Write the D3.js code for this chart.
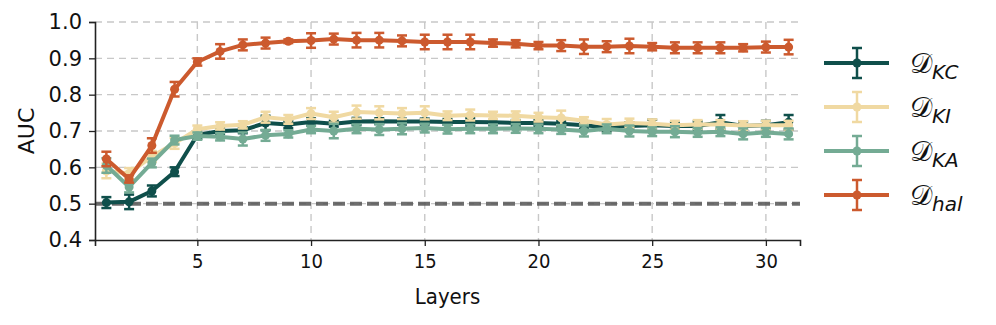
<!DOCTYPE html>
<html>
<head>
<meta charset="utf-8">
<script src="https://cdn.jsdelivr.net/npm/d3@7"></script>
<style>
  html, body { margin: 0; padding: 0; background: #fff; }
  svg { display: block; }
</style>
</head>
<body>
<svg id="chart" width="996" height="325"></svg>
<script>
// AUC per layer for four probing datasets
const layers = d3.range(1, 32);
const xTicks = [5, 10, 15, 20, 25, 30];
const yTicks = [0.4, 0.5, 0.6, 0.7, 0.8, 0.9, 1.0];
const baseline = 0.5;

const kcMean = [0.503, 0.505, 0.535, 0.588, 0.689, 0.700, 0.702, 0.722, 0.718, 0.725, 0.720, 0.726, 0.727, 0.726, 0.726, 0.725,
  0.725, 0.724, 0.722, 0.722, 0.720, 0.716, 0.710, 0.714, 0.716, 0.714, 0.714, 0.724, 0.714, 0.716, 0.724];
const kcErr = [0.015, 0.02, 0.015, 0.012, 0.01, 0.008, 0.008, 0.02, 0.01, 0.01, 0.008, 0.01, 0.008, 0.008, 0.008, 0.008,
  0.01, 0.008, 0.008, 0.008, 0.008, 0.01, 0.01, 0.01, 0.015, 0.01, 0.012, 0.02, 0.012, 0.012, 0.02];

const kiMean = [0.590, 0.583, 0.630, 0.666, 0.705, 0.714, 0.717, 0.738, 0.732, 0.748, 0.738, 0.752, 0.750, 0.748, 0.750, 0.742,
  0.744, 0.743, 0.742, 0.738, 0.736, 0.728, 0.718, 0.722, 0.720, 0.716, 0.718, 0.718, 0.715, 0.716, 0.716];
const kiErr = [0.02, 0.015, 0.015, 0.015, 0.01, 0.01, 0.01, 0.015, 0.012, 0.015, 0.015, 0.018, 0.018, 0.015, 0.018, 0.012,
  0.015, 0.01, 0.012, 0.012, 0.02, 0.01, 0.015, 0.012, 0.012, 0.012, 0.012, 0.012, 0.012, 0.012, 0.012];

const kaMean = [0.605, 0.546, 0.612, 0.675, 0.686, 0.684, 0.678, 0.688, 0.692, 0.704, 0.700, 0.706, 0.704, 0.706, 0.708, 0.705,
  0.706, 0.706, 0.707, 0.706, 0.704, 0.700, 0.706, 0.700, 0.698, 0.698, 0.696, 0.698, 0.692, 0.696, 0.692];
const kaErr = [0.02, 0.015, 0.012, 0.012, 0.01, 0.01, 0.018, 0.015, 0.01, 0.01, 0.02, 0.012, 0.015, 0.015, 0.012, 0.012,
  0.012, 0.012, 0.012, 0.012, 0.012, 0.015, 0.012, 0.015, 0.012, 0.015, 0.012, 0.012, 0.015, 0.012, 0.015];

const halMean = [0.623, 0.568, 0.660, 0.815, 0.890, 0.919, 0.937, 0.942, 0.947, 0.949, 0.953, 0.950, 0.950, 0.948, 0.945, 0.945,
  0.945, 0.942, 0.940, 0.935, 0.935, 0.932, 0.932, 0.934, 0.932, 0.929, 0.929, 0.929, 0.929, 0.931, 0.931];
const halErr = [0.02, 0.01, 0.02, 0.02, 0.01, 0.02, 0.015, 0.015, 0.005, 0.02, 0.015, 0.02, 0.02, 0.015, 0.02, 0.02,
  0.02, 0.01, 0.01, 0.01, 0.015, 0.02, 0.015, 0.02, 0.01, 0.015, 0.015, 0.015, 0.01, 0.015, 0.02];

const seriesNames = ["KC", "KI", "KA", "hal"];
const seriesColors = ["#0f4f4b", "#f0d9a2", "#74ab94", "#cc5a2e"];
const seriesMeans = [kcMean, kiMean, kaMean, halMean];
const seriesErrs = [kcErr, kiErr, kaErr, halErr];

const margin = { top: 22, right: 196, bottom: 85, left: 95 };
const width = 996 - margin.left - margin.right;
const height = 325 - margin.top - margin.bottom;

const svg = d3.select("#chart");
const g = svg.append("g").attr("transform", `translate(${margin.left},${margin.top})`);

const x = d3.scaleLinear().domain([0.5, 31.5]).range([0, width]);
const y = d3.scaleLinear().domain([0.4, 1.0]).range([height, 0]);

// Grid
g.append("g").selectAll("line").data(yTicks.slice(1)).enter().append("line")
  .attr("x1", 0).attr("x2", width)
  .attr("y1", d => y(d)).attr("y2", d => y(d))
  .attr("stroke", "#c8c8c8").attr("stroke-width", 1.4).attr("stroke-dasharray", "7,5");
g.append("g").selectAll("line").data(xTicks).enter().append("line")
  .attr("x1", d => x(d)).attr("x2", d => x(d))
  .attr("y1", 0).attr("y2", height)
  .attr("stroke", "#c8c8c8").attr("stroke-width", 1.4).attr("stroke-dasharray", "7,5");

// Chance line
g.append("line")
  .attr("x1", 0).attr("x2", width)
  .attr("y1", y(baseline)).attr("y2", y(baseline))
  .attr("stroke", "#555").attr("stroke-opacity", 0.85)
  .attr("stroke-width", 4).attr("stroke-dasharray", "12,5");

// Series
const line = d3.line().x((d, i) => x(layers[i])).y(d => y(d));
seriesMeans.forEach(function(means, s) {
  const color = seriesColors[s];
  const errs = seriesErrs[s];
  const sg = g.append("g");
  sg.append("path").datum(means)
    .attr("fill", "none").attr("stroke", color)
    .attr("stroke-width", 4).attr("stroke-linejoin", "round")
    .attr("d", line);
  const bars = sg.selectAll(".eb").data(means).enter().append("g");
  bars.append("line")
    .attr("x1", (d, i) => x(layers[i])).attr("x2", (d, i) => x(layers[i]))
    .attr("y1", (d, i) => y(d - errs[i])).attr("y2", (d, i) => y(d + errs[i]))
    .attr("stroke", color).attr("stroke-width", 2.5);
  [-1, 1].forEach(function(sign) {
    bars.append("line")
      .attr("x1", (d, i) => x(layers[i]) - 5).attr("x2", (d, i) => x(layers[i]) + 5)
      .attr("y1", (d, i) => y(d + sign * errs[i])).attr("y2", (d, i) => y(d + sign * errs[i]))
      .attr("stroke", color).attr("stroke-width", 2.5);
  });
  sg.selectAll("circle").data(means).enter().append("circle")
    .attr("cx", (d, i) => x(layers[i])).attr("cy", d => y(d))
    .attr("r", 4.5).attr("fill", color);
});

// Axes
const xAxis = g.append("g").attr("transform", `translate(0,${height})`)
  .call(d3.axisBottom(x).tickValues(xTicks).tickSize(6).tickPadding(8).tickFormat(d3.format("d")));
const yAxis = g.append("g")
  .call(d3.axisLeft(y).tickValues(yTicks).tickSize(6).tickPadding(7).tickFormat(d3.format(".1f")));
[xAxis, yAxis].forEach(function(ax) {
  ax.select(".domain").attr("stroke", "#222").attr("stroke-width", 1.6);
  ax.selectAll(".tick line").attr("stroke", "#222").attr("stroke-width", 1.3);
  ax.selectAll("text").attr("fill", "#111");
});
xAxis.selectAll("text").style("font-family", "'DejaVu Sans Condensed', 'DejaVu Sans', sans-serif").style("font-size", "20px");
yAxis.selectAll("text").style("font-family", "'DejaVu Sans', sans-serif").style("font-size", "21px");

g.append("text")
  .attr("x", width / 2).attr("y", height + 64)
  .attr("text-anchor", "middle")
  .style("font-family", "'DejaVu Sans Condensed', 'DejaVu Sans', sans-serif").style("font-size", "22px")
  .attr("fill", "#111").text("Layers");
g.append("text")
  .attr("transform", `translate(${-61},${height / 2}) rotate(-90)`)
  .attr("text-anchor", "middle")
  .style("font-family", "'DejaVu Sans', sans-serif").style("font-size", "22px")
  .attr("fill", "#111").text("AUC");

// Legend
const legend = svg.append("g").attr("transform", "translate(824,63)");
seriesNames.forEach(function(name, s) {
  const row = legend.append("g").attr("transform", `translate(0,${s * 44})`);
  const color = seriesColors[s];
  row.append("line").attr("x1", 0).attr("x2", 65).attr("y1", 0).attr("y2", 0)
    .attr("stroke", color).attr("stroke-width", 4);
  row.append("line").attr("x1", 33).attr("x2", 33).attr("y1", -15).attr("y2", 15)
    .attr("stroke", color).attr("stroke-width", 2.5);
  [-15, 15].forEach(function(dy) {
    row.append("line").attr("x1", 28).attr("x2", 38).attr("y1", dy).attr("y2", dy)
      .attr("stroke", color).attr("stroke-width", 2.5);
  });
  row.append("circle").attr("cx", 33).attr("cy", 0).attr("r", 4.5).attr("fill", color);
  const t = row.append("text").attr("x", 86).attr("y", 10)
    .style("font-family", "'DejaVu Sans', sans-serif").attr("fill", "#111");
  t.append("tspan").style("font-size", "28px").text("\u{1D49F}");
  t.append("tspan").attr("dy", 6).style("font-size", "20px").style("font-style", "italic").text(name);
});
</script>
</body>
</html>
